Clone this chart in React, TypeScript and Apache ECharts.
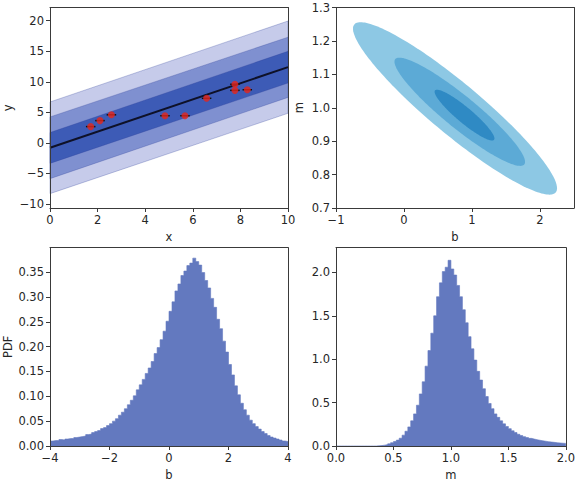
import React, { useEffect, useRef } from "react";
import * as echarts from "echarts";

// ---------- data ----------
// top-left: data points with x error bars
const ptX = [1.71, 2.1, 2.58, 4.83, 5.67, 6.58, 7.77, 7.77, 8.29];
const ptY = [2.67, 3.65, 4.6, 4.45, 4.45, 7.3, 9.6, 8.6, 8.7];
const ptXErr = [0.2, 0.2, 0.2, 0.2, 0.2, 0.2, 0.2, 0.2, 0.2];
// best-fit line at x = 0 and x = 10
const lineX = [0, 10];
const lineY = [-0.8, 12.4];
// confidence bands (outer, middle, inner): lower / upper at x = 0 and x = 10
const bandLo0 = [-8.3, -5.85, -3.35];
const bandHi0 = [6.7, 4.25, 1.7];
const bandLo10 = [4.85, 7.45, 9.8];
const bandHi10 = [19.95, 17.3, 15.0];
const bandColors = ["#c6cbea", "#7f90d0", "#3d5bb6"];

// top-right: contour levels (outer, middle, inner)
const contB = [0.75, 0.82, 0.89];
const contM = [0.998, 0.988, 0.978];
const contHalfB = [1.5, 0.96, 0.44];
const contHalfM = [0.258, 0.162, 0.076];
const contRho = [-0.925, -0.925, -0.92];
const contColors = ["#8dc8e4", "#5caad6", "#2f8ac4"];

// bottom-left: histogram of b (bins of 0.1 from -4)
const bStart = -4;
const bWidth = 0.1;
const bHist = [
  0.010, 0.011, 0.011, 0.013, 0.012, 0.014, 0.015, 0.015, 0.017, 0.018,
  0.019, 0.020, 0.023, 0.024, 0.027, 0.029, 0.031, 0.035, 0.037, 0.041,
  0.045, 0.050, 0.055, 0.062, 0.068, 0.075, 0.083, 0.092, 0.101, 0.113,
  0.123, 0.134, 0.146, 0.157, 0.170, 0.186, 0.198, 0.214, 0.231, 0.251,
  0.271, 0.290, 0.312, 0.326, 0.343, 0.352, 0.363, 0.368, 0.378, 0.371,
  0.364, 0.349, 0.333, 0.318, 0.297, 0.279, 0.255, 0.236, 0.211, 0.189,
  0.164, 0.143, 0.121, 0.103, 0.086, 0.073, 0.062, 0.052, 0.045, 0.039,
  0.034, 0.029, 0.025, 0.021, 0.018, 0.016, 0.014, 0.012, 0.010, 0.009,
];

// bottom-right: histogram of m (bins of 0.025 from 0)
const mStart = 0;
const mWidth = 0.025;
const mHist = [
  0, 0, 0, 0, 0, 0, 0, 0, 0, 0,
  0, 0, 0, 0, 0.002, 0.005, 0.010, 0.016, 0.025, 0.038,
  0.052, 0.068, 0.090, 0.125, 0.17, 0.22, 0.29, 0.37, 0.47, 0.60,
  0.74, 0.92, 1.10, 1.30, 1.50, 1.72, 1.88, 2.01, 2.06, 2.14,
  2.04, 1.97, 1.85, 1.72, 1.57, 1.42, 1.26, 1.12, 0.99, 0.86,
  0.76, 0.66, 0.57, 0.49, 0.43, 0.37, 0.33, 0.29, 0.255, 0.225,
  0.20, 0.175, 0.155, 0.135, 0.12, 0.108, 0.097, 0.088, 0.080, 0.073,
  0.066, 0.060, 0.055, 0.050, 0.046, 0.042, 0.038, 0.035, 0.032, 0.030,
];
const histColor = "#6379bf";

// tick values
const tlXTicks = [0, 2, 4, 6, 8, 10];
const tlYTicks = [-10, -5, 0, 5, 10, 15, 20];
const trXTicks = [-1, 0, 1, 2];
const trYTicks = [0.7, 0.8, 0.9, 1.0, 1.1, 1.2, 1.3];
const blXTicks = [-4, -2, 0, 2, 4];
const blYTicks = [0, 0.05, 0.1, 0.15, 0.2, 0.25, 0.3, 0.35];
const brXTicks = [0, 0.5, 1.0, 1.5, 2.0];
const brYTicks = [0, 0.5, 1.0, 1.5, 2.0];

// ---------- helpers ----------
const FONT = { fontFamily: "DejaVu Sans", fontSize: 11.5, color: "#262626" };
const SPINE = { color: "#3a3a3a", width: 1 };

const fmt = (v: number, d: number) => v.toFixed(d).replace("-", "\u2212");

function mainAxis(
  kind: "x" | "y",
  gridIndex: number,
  min: number,
  max: number,
  ticks: number[],
  dec: number,
  name: string,
  gap: number
) {
  return {
    type: "value",
    gridIndex,
    min,
    max,
    position: kind === "x" ? "bottom" : "left",
    name,
    nameLocation: "middle",
    nameGap: gap,
    nameRotate: kind === "y" ? 90 : 0,
    nameTextStyle: { ...FONT },
    splitLine: { show: false },
    axisLine: { show: true, onZero: false, lineStyle: SPINE },
    axisTick: { show: true, inside: false, length: 4, lineStyle: SPINE, customValues: ticks },
    axisLabel: {
      ...FONT,
      margin: 6,
      customValues: ticks,
      hideOverlap: false,
      formatter: (v: number) => fmt(v, dec),
    },
    z: 10,
  };
}

function mirrorAxis(kind: "x" | "y", gridIndex: number) {
  return {
    type: "value",
    gridIndex,
    min: 0,
    max: 1,
    position: kind === "x" ? "top" : "right",
    splitLine: { show: false },
    axisLine: { show: true, onZero: false, lineStyle: SPINE },
    axisTick: { show: false },
    axisLabel: { show: false },
    z: 10,
  };
}

function histSeries(idx: number, start: number, width: number, vals: number[]) {
  const pts = vals.map((v, i) => [start + i * width, v]);
  pts.push([start + vals.length * width, vals[vals.length - 1]]);
  return {
    type: "line",
    xAxisIndex: idx,
    yAxisIndex: idx,
    step: "end",
    symbol: "none",
    z: 2,
    data: pts,
    lineStyle: { color: histColor, width: 0.6 },
    areaStyle: { color: histColor, opacity: 1, origin: "start" },
  };
}

export default function App() {
  const ref = useRef<HTMLDivElement>(null);

  useEffect(() => {
    if (!ref.current) return;
    const chart = echarts.init(ref.current, null, { renderer: "svg" });

    const option: any = {
      animation: false,
      grid: [
        { left: 50, top: 7.5, width: 238, height: 200.5 },
        { left: 336, top: 7.5, width: 238, height: 200.5 },
        { left: 50, top: 247.7, width: 238, height: 200.3 },
        { left: 336, top: 247.7, width: 238, height: 200.3 },
      ],
      xAxis: [
        mainAxis("x", 0, 0, 10, tlXTicks, 0, "x", 23),
        mainAxis("x", 1, -1, 2.5, trXTicks, 0, "b", 23),
        mainAxis("x", 2, -4, 4, blXTicks, 0, "b", 23),
        mainAxis("x", 3, 0, 2, brXTicks, 1, "m", 23),
        mirrorAxis("x", 0),
        mirrorAxis("x", 1),
        mirrorAxis("x", 2),
        mirrorAxis("x", 3),
      ],
      yAxis: [
        mainAxis("y", 0, -10.65, 22.16, tlYTicks, 0, "y", 36),
        mainAxis("y", 1, 0.7, 1.3, trYTicks, 1, "m", 31),
        mainAxis("y", 2, 0, 0.399, blYTicks, 2, "PDF", 34),
        mainAxis("y", 3, 0, 2.285, brYTicks, 1, "", 30),
        mirrorAxis("y", 0),
        mirrorAxis("y", 1),
        mirrorAxis("y", 2),
        mirrorAxis("y", 3),
      ],
      series: [
        {
          type: "custom",
          xAxisIndex: 0,
          yAxisIndex: 0,
          z: 1,
          data: bandLo0.map((_, i) => [lineX[0], bandLo0[i], lineX[1], bandLo10[i], bandHi10[i], bandHi0[i]]),
          encode: { x: [0, 2], y: [1, 3, 4, 5] },
          renderItem: (params: any, api: any) => {
            const i = params.dataIndex;
            const pts = [
              api.coord([lineX[0], bandLo0[i]]),
              api.coord([lineX[1], bandLo10[i]]),
              api.coord([lineX[1], bandHi10[i]]),
              api.coord([lineX[0], bandHi0[i]]),
            ];
            return {
              type: "polygon",
              shape: { points: pts },
              style: { fill: bandColors[i], stroke: "rgba(40,60,150,0.35)", lineWidth: 0.8 },
            };
          },
        },
        {
          type: "line",
          xAxisIndex: 0,
          yAxisIndex: 0,
          z: 3,
          symbol: "none",
          data: lineX.map((x, i) => [x, lineY[i]]),
          lineStyle: { color: "#0e1128", width: 2 },
        },
        {
          type: "custom",
          xAxisIndex: 0,
          yAxisIndex: 0,
          z: 4,
          data: ptX.map((x, i) => [x, ptY[i], ptXErr[i]]),
          renderItem: (params: any, api: any) => {
            const x = api.value(0);
            const y = api.value(1);
            const e = api.value(2);
            const a = api.coord([x - e, y]);
            const b = api.coord([x + e, y]);
            return {
              type: "line",
              shape: { x1: a[0], y1: a[1], x2: b[0], y2: b[1] },
              style: { stroke: "#111", lineWidth: 1.5 },
            };
          },
        },
        {
          type: "scatter",
          xAxisIndex: 0,
          yAxisIndex: 0,
          z: 5,
          symbol: "circle",
          symbolSize: 7,
          data: ptX.map((x, i) => [x, ptY[i]]),
          itemStyle: { color: "#e6261c" },
        },
        {
          type: "custom",
          xAxisIndex: 1,
          yAxisIndex: 1,
          z: 2,
          data: contB.map((b, i) => [b, contM[i], contHalfB[i], contHalfM[i], contRho[i]]),
          renderItem: (params: any, api: any) => {
            const i = params.dataIndex;
            const rho = contRho[i];
            const s = Math.sqrt(1 - rho * rho);
            const pts: number[][] = [];
            for (let k = 0; k < 180; k++) {
              const t = (k / 180) * Math.PI * 2;
              const b = contB[i] + contHalfB[i] * Math.cos(t);
              const m = contM[i] + contHalfM[i] * (rho * Math.cos(t) + s * Math.sin(t));
              pts.push(api.coord([b, m]));
            }
            return {
              type: "polygon",
              shape: { points: pts },
              style: { fill: contColors[i] },
            };
          },
        },
        histSeries(2, bStart, bWidth, bHist),
        histSeries(3, mStart, mWidth, mHist),
      ],
    };

    chart.setOption(option);
    return () => chart.dispose();
  }, []);

  return (
    <div
      ref={ref}
      style={{ position: "fixed", left: 0, top: 0, width: 578, height: 482, background: "#fff" }}
    />
  );
}
